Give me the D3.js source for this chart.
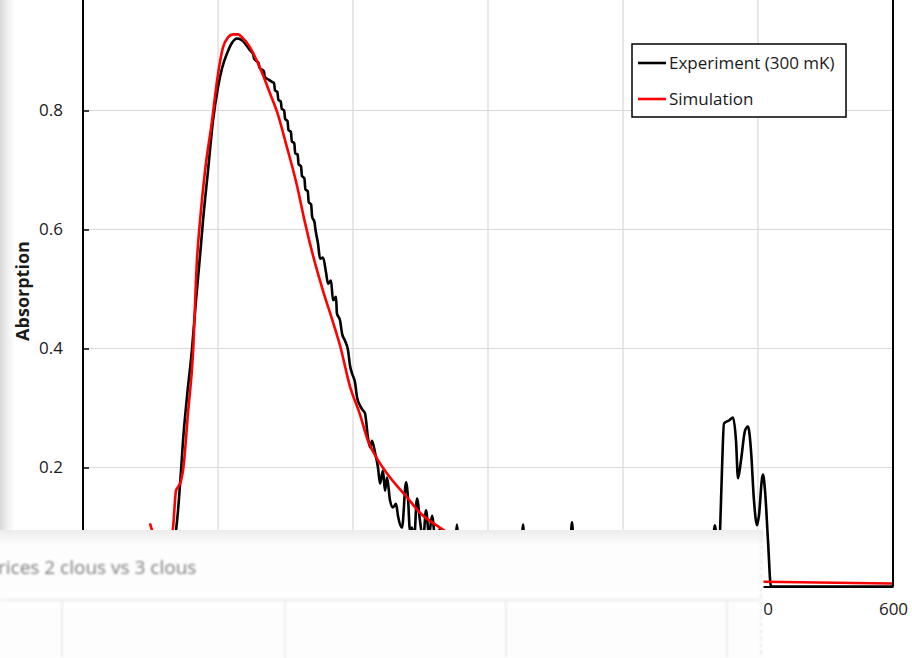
<!DOCTYPE html>
<html>
<head>
<meta charset="utf-8">
<script src="https://cdn.jsdelivr.net/npm/d3@7.9.0/dist/d3.min.js"></script>
<style>
  html, body { margin: 0; padding: 0; background: #fff; }
  svg { display: block; }
</style>
</head>
<body>
<svg id="chart" width="912" height="658"></svg>
<script>
// experiment (300 mK): [x, absorption], split in pieces
const expRise = [[0, 0.018], [27.4, 0.02], [49.6, 0.024], [60.7, 0.03], [65.9, 0.044], [68.9, 0.094], [70.4, 0.128],
  [72.6, 0.195], [74.1, 0.245], [77, 0.318], [80.7, 0.398], [83.7, 0.481], [86.7, 0.556], [88.9, 0.615], [92.6, 0.699],
  [96.3, 0.783], [100, 0.839], [103, 0.871], [106.7, 0.896], [110.4, 0.914], [114.1, 0.921]];
const expFall = [[117, 0.919], [120, 0.913], [123.7, 0.901], [126, 0.895], [126.7, 0.887], [130, 0.88], [130.7, 0.872],
  [134, 0.866], [134.7, 0.856], [137.5, 0.852], [140, 0.848], [141.5, 0.846], [142.2, 0.834], [144, 0.831], [144.7, 0.818],
  [146.5, 0.815], [147.2, 0.803], [149, 0.8], [149.7, 0.786], [151.5, 0.782], [152.2, 0.767], [154, 0.764], [154.7, 0.748],
  [156.5, 0.745], [157.2, 0.728], [159, 0.726], [159.7, 0.71], [161.5, 0.706], [162.2, 0.69], [164, 0.686], [164.7, 0.668],
  [166.5, 0.664], [167.2, 0.646], [169, 0.642], [169.7, 0.622], [171.5, 0.612], [172.2, 0.6], [174.1, 0.576], [175.6, 0.551],
  [177.8, 0.553], [180, 0.528], [181.5, 0.509], [183.7, 0.514], [185.2, 0.481], [187.4, 0.487], [188.1, 0.459], [190.4, 0.447],
  [191.9, 0.425], [194.1, 0.413], [196.3, 0.397], [197.8, 0.371], [199.3, 0.358], [201.5, 0.343], [203, 0.318], [205.2, 0.304],
  [207.4, 0.296], [208.9, 0.291], [211.1, 0.25], [212.6, 0.234], [214.1, 0.245], [216.3, 0.225], [218.5, 0.2], [220, 0.173],
  [222.2, 0.195], [223.7, 0.161], [225.2, 0.183], [227.4, 0.145], [229.6, 0.133], [231.9, 0.139], [233.3, 0.119], [236.3, 0.099],
  [239.3, 0.175], [240.7, 0.15], [242.2, 0.094], [243.7, 0.099], [245.2, 0.077], [247.4, 0.148], [249.6, 0.111], [251.9, 0.077],
  [254.1, 0.128], [256.3, 0.086], [258.5, 0.119], [261.5, 0.069], [264.4, 0.097], [267.4, 0.061]];
const expTail = [[271.9, 0.044], [275.6, 0.069], [277, 0.104], [278.5, 0.064], [286.7, 0.044], [301.5, 0.035], [316.3, 0.044],
  [324.4, 0.064], [325.9, 0.104], [327.4, 0.061], [345.9, 0.035], [360.7, 0.061], [362.2, 0.108], [363.7, 0.061], [397.8, 0.035],
  [442.2, 0.035], [465.9, 0.061], [468.1, 0.103], [470.4, 0.044], [471.9, 0.094], [473.3, 0.195], [474.8, 0.274], [478.5, 0.279],
  [481.5, 0.284], [483.7, 0.245], [485.2, 0.182], [487.4, 0.212], [490.4, 0.262], [492.6, 0.269], [494.8, 0.229], [497, 0.145],
  [499.3, 0.103], [500.7, 0.119], [503, 0.182], [503.7, 0.188], [505.2, 0.161], [507.4, 0.077], [509.6, 0], [600, 0]];

// simulation: [x, absorption]
const simData = [[49.6, 0.106], [51.9, 0.089], [55.6, 0.069], [60, 0.061], [63.7, 0.069], [66.7, 0.099], [68.9, 0.161],
  [70.4, 0.167], [72.6, 0.178], [74.1, 0.195], [77.8, 0.292], [81.5, 0.392], [84.4, 0.548], [86.7, 0.615], [90.4, 0.699],
  [95.6, 0.783], [99.3, 0.85], [103.7, 0.906], [107.4, 0.923], [111.1, 0.928], [114.8, 0.928], [117.8, 0.923], [123.7, 0.906],
  [131.1, 0.872], [138.5, 0.829], [143.7, 0.798], [151.1, 0.738], [158.5, 0.674], [164.4, 0.612], [170.4, 0.556],
  [177.8, 0.497], [185.2, 0.444], [190.4, 0.405], [197.8, 0.336], [205.2, 0.289], [211.1, 0.245], [217.8, 0.215],
  [225.2, 0.19], [240, 0.15], [249.6, 0.124], [264.4, 0.099], [279.3, 0.077], [301.5, 0.052], [331.1, 0.034],
  [368.1, 0.02], [420, 0.013], [504.4, 0.008], [600, 0.005]];

const xTicks = [0, 100, 200, 300, 400, 500, 600];
const yGrid = [0.2, 0.4, 0.6, 0.8, 1];
const yTicks = [0.2, 0.4, 0.6, 0.8];
const yTickLabels = ['0.2', '0.4', '0.6', '0.8'];
const seriesNames = ['Experiment (300 mK)', 'Simulation'];
const seriesColors = ['#000000', '#ff0000'];
const overlayTitle = 'rices 2 clous vs 3 clous';

const svg = d3.select('#chart');
const font = '"Open Sans", "Noto Sans", sans-serif';

const x = d3.scaleLinear().domain([0, 600]).range([83, 893]);
const y = d3.scaleLinear().domain([0, 1]).range([586.5, -8.5]);

const defs = svg.append('defs');
const lg = defs.append('linearGradient').attr('id', 'edge').attr('x1', 0).attr('x2', 1);
lg.append('stop').attr('offset', 0).attr('stop-color', '#d9d9d9');
lg.append('stop').attr('offset', 0.4).attr('stop-color', '#ececec');
lg.append('stop').attr('offset', 1).attr('stop-color', '#ffffff');
const tg = defs.append('linearGradient').attr('id', 'topband').attr('x1', 0).attr('x2', 0).attr('y1', 0).attr('y2', 1);
tg.append('stop').attr('offset', 0).attr('stop-color', '#ececec');
tg.append('stop').attr('offset', 1).attr('stop-color', '#fbfbfb');
defs.append('filter').attr('id', 'blur').append('feGaussianBlur').attr('stdDeviation', 0.9);
defs.append('clipPath').attr('id', 'plotclip').append('rect')
  .attr('x', 83).attr('y', -20).attr('width', 810).attr('height', 607);

// shadow of the window behind, at the left edge
svg.append('rect').attr('x', 0).attr('y', 0).attr('width', 15).attr('height', 530).attr('fill', 'url(#edge)');

// grid
svg.append('g').selectAll('line').data(xTicks.slice(1, -1)).join('line')
  .attr('x1', d => x(d)).attr('x2', d => x(d)).attr('y1', y(1) - 5).attr('y2', y(0))
  .attr('stroke', '#d9d9d9').attr('stroke-width', 1.2);
svg.append('g').selectAll('line').data(yGrid).join('line')
  .attr('x1', x(0)).attr('x2', x(600)).attr('y1', d => y(d)).attr('y2', d => y(d))
  .attr('stroke', '#d9d9d9').attr('stroke-width', 1.2);

// series
const line = d3.line().x(d => x(d[0])).y(d => y(d[1])).curve(d3.curveMonotoneX);
const plot = svg.append('g').attr('clip-path', 'url(#plotclip)');
plot.append('path')
  .attr('d', line(expRise.concat(expFall, expTail)))
  .attr('fill', 'none').attr('stroke', seriesColors[0]).attr('stroke-width', 2.6).attr('stroke-linejoin', 'round');
plot.append('path')
  .attr('d', line(simData))
  .attr('fill', 'none').attr('stroke', seriesColors[1]).attr('stroke-width', 2.6).attr('stroke-linejoin', 'round');

// axes
const yAxis = svg.append('g').attr('transform', `translate(${x(0)},0)`)
  .call(d3.axisLeft(y).tickValues(yTicks).tickFormat((d, i) => yTickLabels[i]).tickSize(-6).tickPadding(20));
const xAxis = svg.append('g').attr('transform', `translate(0,${y(0)})`)
  .call(d3.axisBottom(x).tickValues(xTicks).tickSize(0).tickPadding(16));
[yAxis, xAxis].forEach(a => {
  a.select('.domain').attr('stroke', '#000').attr('stroke-width', 2);
  a.selectAll('.tick line').attr('stroke', '#000').attr('stroke-width', 1.5);
  a.selectAll('.tick text').attr('font-family', font).attr('font-size', 17).attr('fill', '#1a1a1a');
});
yAxis.select('.domain').attr('d', `M0,${y(1) - 5}V${y(0)}`);
svg.append('line').attr('x1', x(600)).attr('x2', x(600)).attr('y1', y(1) - 5).attr('y2', y(0))
  .attr('stroke', '#000').attr('stroke-width', 2);

svg.append('text')
  .attr('transform', `translate(29,291) rotate(-90)`)
  .attr('text-anchor', 'middle')
  .attr('font-family', font).attr('font-size', 18).attr('font-weight', 'bold')
  .attr('fill', '#1a1a1a')
  .text('Absorption');

// legend
const legend = svg.append('g').attr('transform', 'translate(632,44)');
legend.append('rect').attr('width', 214).attr('height', 73)
  .attr('fill', '#fff').attr('stroke', '#000').attr('stroke-width', 1.5);
seriesNames.forEach((name, i) => {
  const ly = 19 + i * 36;
  legend.append('line').attr('x1', 6).attr('x2', 34).attr('y1', ly).attr('y2', ly)
    .attr('stroke', seriesColors[i]).attr('stroke-width', 2.6);
  legend.append('text').attr('x', 37).attr('y', ly).attr('dy', '0.35em')
    .attr('font-family', font).attr('font-size', 17).attr('fill', '#1a1a1a')
    .text(name);
});

// foreground window covering the lower part
const win = svg.append('g');
win.append('rect').attr('x', 0).attr('y', 530).attr('width', 763.5).attr('height', 128).attr('fill', '#fdfdfd');
win.append('rect').attr('x', 0).attr('y', 530).attr('width', 763.5).attr('height', 14).attr('fill', 'url(#topband)');
const faint = win.append('g').attr('filter', 'url(#blur)');
faint.append('line').attr('x1', 0).attr('x2', 760).attr('y1', 600).attr('y2', 600).attr('stroke', '#ececec').attr('stroke-width', 2);
[62, 285, 506, 727].forEach(px => {
  faint.append('line').attr('x1', px).attr('x2', px).attr('y1', 600).attr('y2', 658).attr('stroke', '#eeeeee').attr('stroke-width', 2);
});
faint.append('line').attr('x1', 761).attr('x2', 761).attr('y1', 532).attr('y2', 658)
  .attr('stroke', '#e6e6e6').attr('stroke-width', 2).attr('stroke-dasharray', '3 4');
faint.append('text').attr('x', -2).attr('y', 574)
  .attr('font-family', font).attr('font-size', 19).attr('fill', '#7d7d7d')
  .text(overlayTitle);
</script>
</body>
</html>
